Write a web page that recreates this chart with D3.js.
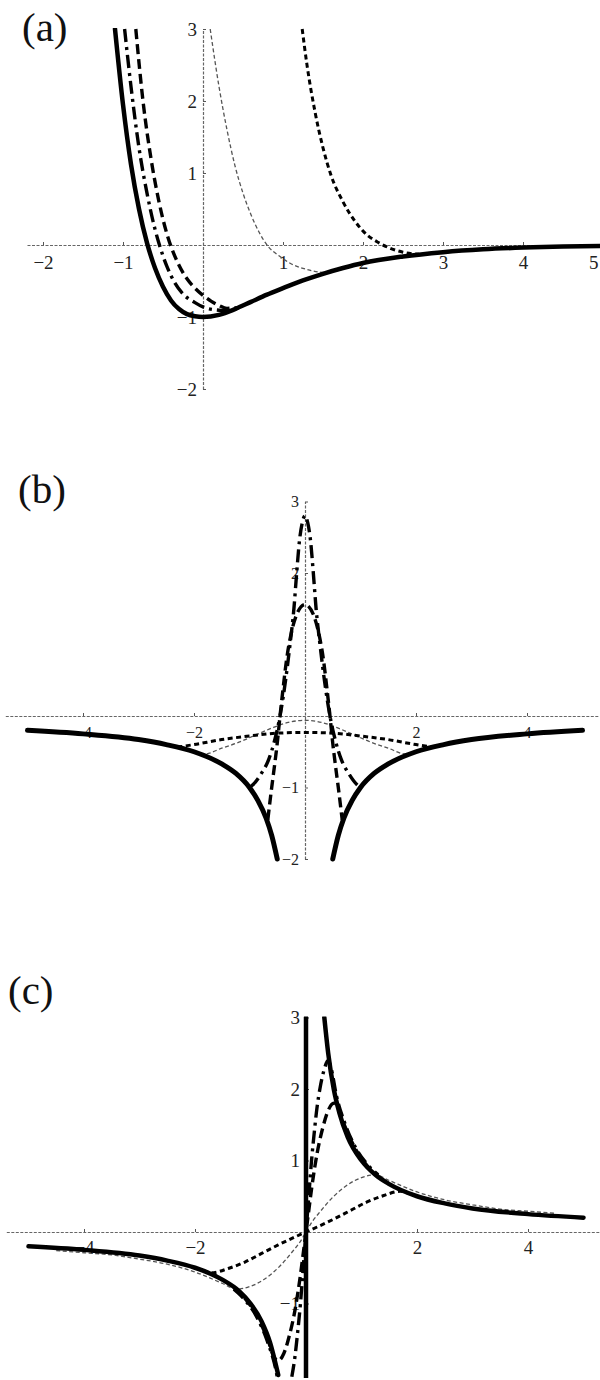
<!DOCTYPE html>
<html>
<head>
<meta charset="utf-8">
<script src="https://cdn.jsdelivr.net/npm/d3@7"></script>
<style>
  body { margin: 0; background: #fff; }
  svg { display: block; }
</style>
</head>
<body>
<svg id="chart" width="600" height="1380"></svg>
<script>
// ---- panel (a) values ----
const aTicksX = [-2, -1, 1, 2, 3, 4, 5];
const aTicksY = [-2, -1, 1, 2, 3];
const aSolid = [[-1.1,3],[-1,1.95],[-0.9,1.12],[-0.8,0.5],[-0.7,0.03],[-0.6,-0.32],[-0.5,-0.58],[-0.4,-0.77],[-0.3,-0.89],[-0.2,-0.96],[-0.1,-0.99],[0,-1],[0.2,-0.97],[0.4,-0.89],[0.6,-0.79],[0.8,-0.69],[1,-0.6],[1.25,-0.49],[1.5,-0.4],[1.75,-0.32],[2,-0.25],[2.5,-0.16],[3,-0.1],[3.5,-0.06],[4,-0.036],[4.5,-0.022],[5,-0.013]];
const aDashDot = [[-0.98,3],[-0.9,2.2],[-0.8,1.35],[-0.7,0.72],[-0.6,0.22],[-0.55,0.02],[-0.45,-0.3],[-0.35,-0.53],[-0.25,-0.68],[-0.1,-0.8],[0,-0.86],[0.15,-0.9],[0.3,-0.91],[0.45,-0.87]];
const aLongDash = [[-0.84,3],[-0.75,2],[-0.65,1.2],[-0.55,0.6],[-0.45,0.15],[-0.4,-0.02],[-0.3,-0.28],[-0.2,-0.47],[-0.1,-0.6],[0,-0.7],[0.1,-0.78],[0.2,-0.84],[0.3,-0.88],[0.45,-0.87]];
const aThin = [[0.09,3],[0.2,2.2],[0.3,1.6],[0.4,1.1],[0.5,0.72],[0.6,0.42],[0.7,0.18],[0.8,0],[0.95,-0.15],[1.1,-0.26],[1.3,-0.34],[1.5,-0.38],[1.7,-0.34]];
const aShort = [[1.24,3],[1.3,2.5],[1.4,1.85],[1.5,1.35],[1.6,0.97],[1.75,0.6],[1.9,0.33],[2.05,0.14],[2.2,0.03],[2.35,-0.05],[2.5,-0.1],[2.7,-0.13]];

// ---- panel (b) ----
const bTicksX = [-4, -2, 2, 4];
const bTicksY = [-2, -1, 2, 3];
const bSolidL = [[-5,-0.2],[-4,-0.25],[-3,-0.33],[-2.5,-0.4],[-2,-0.5],[-1.5,-0.67],[-1.25,-0.8],[-1,-1],[-0.85,-1.18],[-0.7,-1.43],[-0.6,-1.67],[-0.5,-2]];
const bSolidR = [[0.5,-2],[0.6,-1.67],[0.7,-1.43],[0.85,-1.18],[1,-1],[1.25,-0.8],[1.5,-0.67],[2,-0.5],[2.5,-0.4],[3,-0.33],[4,-0.25],[5,-0.2]];
const bDashDot = [[-1,-1],[-0.95,-0.97],[-0.8,-0.82],[-0.65,-0.6],[-0.55,-0.35],[-0.45,0],[-0.35,0.5],[-0.27,1],[-0.2,1.5],[-0.15,2],[-0.1,2.45],[-0.05,2.7],[0,2.8],[0.05,2.7],[0.1,2.45],[0.15,2],[0.2,1.5],[0.27,1],[0.35,0.5],[0.45,0],[0.55,-0.35],[0.65,-0.6],[0.8,-0.82],[0.95,-0.97],[1,-1]];
const bLongDash = [[-0.67,-1.45],[-0.6,-1],[-0.55,-0.7],[-0.5,-0.38],[-0.45,0],[-0.4,0.35],[-0.33,0.8],[-0.25,1.15],[-0.15,1.42],[0,1.56],[0.15,1.42],[0.25,1.15],[0.33,0.8],[0.4,0.35],[0.45,0],[0.5,-0.38],[0.55,-0.7],[0.6,-1],[0.67,-1.45]];
const bThin = [[-2,-0.5],[-1.8,-0.53],[-1.5,-0.45],[-1.2,-0.37],[-0.9,-0.27],[-0.6,-0.17],[-0.3,-0.09],[0,-0.06],[0.3,-0.09],[0.6,-0.17],[0.9,-0.27],[1.2,-0.37],[1.5,-0.45],[1.8,-0.53],[2,-0.5]];
const bShort = [[-2.3,-0.435],[-2,-0.4],[-1.5,-0.33],[-1,-0.28],[-0.5,-0.24],[0,-0.23],[0.5,-0.24],[1,-0.28],[1.5,-0.33],[2,-0.4],[2.3,-0.435]];

// ---- panel (c) ----
const cTicksX = [-4, -2, 2, 4];
const cTicksY = [-1, 1, 2, 3];
const cSolidL = [[-5,-0.2],[-4,-0.25],[-3,-0.33],[-2.5,-0.4],[-2,-0.5],[-1.5,-0.67],[-1.2,-0.83],[-1,-1],[-0.8,-1.25],[-0.65,-1.54],[-0.5,-2]];
const cWall = [[0,-2.1],[0,3]];
const cSolidR = [[0.33,3],[0.4,2.5],[0.5,2],[0.6,1.67],[0.75,1.33],[1,1],[1.25,0.8],[1.5,0.67],[2,0.5],[2.5,0.4],[3,0.33],[4,0.25],[5,0.2]];
const cDashDot = [[-1.3,-0.8],[-1.1,-0.95],[-0.9,-1.17],[-0.7,-1.52],[-0.55,-1.9],[-0.45,-2.3],[-0.4,-2.4],[-0.32,-2.25],[-0.25,-2],[-0.2,-1.75],[-0.15,-1.4],[-0.1,-1],[-0.05,-0.5],[0,0],[0.05,0.5],[0.1,1],[0.15,1.4],[0.2,1.75],[0.25,2],[0.32,2.25],[0.4,2.4],[0.45,2.3],[0.55,1.9],[0.7,1.52],[0.9,1.17],[1.1,0.95],[1.3,0.8]];
const cLongDash = [[-1.3,-0.78],[-1.1,-0.93],[-0.9,-1.15],[-0.7,-1.48],[-0.55,-1.78],[-0.5,-1.8],[-0.4,-1.7],[-0.3,-1.45],[-0.2,-1.1],[-0.1,-0.6],[-0.05,-0.3],[0,0],[0.05,0.3],[0.1,0.6],[0.2,1.1],[0.3,1.45],[0.4,1.7],[0.5,1.8],[0.55,1.78],[0.7,1.48],[0.9,1.15],[1.1,0.93],[1.3,0.78]];
const cThin = [[-4.5,-0.26],[-4,-0.29],[-3.5,-0.32],[-3,-0.38],[-2.5,-0.45],[-2,-0.56],[-1.5,-0.72],[-1.25,-0.8],[-1,-0.76],[-0.75,-0.66],[-0.5,-0.5],[-0.25,-0.28],[-0.1,-0.13],[0,0],[0.1,0.13],[0.25,0.28],[0.5,0.5],[0.75,0.66],[1,0.76],[1.25,0.8],[1.5,0.72],[2,0.56],[2.5,0.45],[3,0.38],[3.5,0.32],[4,0.29],[4.5,0.26]];
const cShort = [[-1.85,-0.54],[-1.7,-0.57],[-1.4,-0.51],[-1.1,-0.42],[-0.8,-0.3],[-0.5,-0.18],[-0.2,-0.07],[0,0],[0.2,0.07],[0.5,0.18],[0.8,0.3],[1.1,0.42],[1.4,0.51],[1.7,0.57],[1.85,0.54]];

const svg = d3.select("#chart");
const serif = "'Liberation Serif', 'DejaVu Serif', serif";

// line looks
const styles = {
  solid:    { w: 4.5, dash: null,        color: "#000" },
  dashDot:  { w: 3.4, dash: "13,5,3,5",  color: "#000" },
  longDash: { w: 3.4, dash: "10,5",      color: "#000" },
  thin:     { w: 1.3, dash: "4,2.5",     color: "#555" },
  short:    { w: 3, dash: "5,3.5",       color: "#000" }
};

const panels = [
  {
    id: "a", label: "(a)", lx: 22, ly: 41,
    x: d3.scaleLinear().domain([-2.2, 5]).range([27, 603]),
    y: d3.scaleLinear().domain([-2, 3]).range([389, 29]),
    xTicks: aTicksX, yTicks: aTicksY, fs: 19, xPad: 11,
    series: [
      [aThin, "thin"], [aShort, "short"], [aLongDash, "longDash"], [aDashDot, "dashDot"], [aSolid, "solid"]
    ]
  },
  {
    id: "b", label: "(b)", lx: 18, ly: 503,
    x: d3.scaleLinear().domain([-5.4, 5.3]).range([305 - 5.4 * 55.5, 305 + 5.3 * 55.5]),
    y: d3.scaleLinear().domain([-2, 3]).range([859, 501.5]),
    xTicks: bTicksX, yTicks: bTicksY, fs: 16, xPad: 11,
    series: [
      [bThin, "thin"], [bShort, "short"], [bLongDash, "longDash"], [bDashDot, "dashDot"], [bSolidL, "solid"], [bSolidR, "solid"]
    ]
  },
  {
    id: "c", label: "(c)", lx: 8, ly: 1004,
    x: d3.scaleLinear().domain([-5.4, 5.3]).range([306 - 5.4 * 55.5, 306 + 5.3 * 55.5]),
    y: d3.scaleLinear().domain([-2, 3]).range([1375, 1017.5]),
    xTicks: cTicksX, yTicks: cTicksY, fs: 19, xPad: 9,
    series: [
      [cThin, "thin"], [cShort, "short"], [cLongDash, "longDash"], [cDashDot, "dashDot"], [cSolidL, "solid"], [cWall, "solid"], [cSolidR, "solid"]
    ]
  }
];

panels.forEach(p => {
  const g = svg.append("g");

  const [x0, x1] = p.x.range();
  const [yb, yt] = p.y.range();
  g.append("clipPath").attr("id", "clip-" + p.id)
    .append("rect")
    .attr("x", x0).attr("y", yt - 1)
    .attr("width", x1 - x0).attr("height", yb - yt + 4);

  // axes: thin dotted lines, ticks pointing inward
  const gx = g.append("g")
    .attr("transform", `translate(0,${p.y(0)})`)
    .call(d3.axisBottom(p.x).tickValues(p.xTicks).tickSize(-3).tickSizeOuter(0).tickPadding(p.xPad).tickFormat(d3.format("d")));
  const gy = g.append("g")
    .attr("transform", `translate(${p.x(0)},0)`)
    .call(d3.axisLeft(p.y).tickValues(p.yTicks).tickSize(-3).tickSizeOuter(0).tickPadding(6).tickFormat(d3.format("d")));

  [gx, gy].forEach(ax => {
    ax.attr("font-family", serif).attr("font-size", p.fs);
    ax.select(".domain").attr("stroke", "#666").attr("stroke-width", 1.2).attr("stroke-dasharray", "3,1.5");
    ax.selectAll(".tick line").attr("stroke", "#555");
    ax.selectAll(".tick text").attr("fill", "#222");
  });

  // a tick that sits past the page edge: pull its label back inside
  gx.selectAll(".tick")
    .filter(d => p.x(d) > 592)
    .select("text")
    .attr("text-anchor", "end")
    .attr("dx", 598 - p.x(d3.max(p.xTicks)));

  const line = d3.line()
    .x(d => p.x(d[0]))
    .y(d => p.y(d[1]))
    .curve(d3.curveMonotoneX);
  const straight = d3.line().x(d => p.x(d[0])).y(d => p.y(d[1]));

  p.series.forEach(([data, kind]) => {
    const s = styles[kind];
    const isWall = data === cWall;
    g.append("path")
      .datum(data)
      .attr("clip-path", `url(#clip-${p.id})`)
      .attr("fill", "none")
      .attr("stroke", s.color)
      .attr("stroke-width", kind === "solid" && p.id === "b" ? 5 : s.w)
      .attr("stroke-dasharray", s.dash)
      .attr("stroke-linecap", kind === "solid" ? "round" : "butt")
      .attr("d", isWall ? straight : line);
  });

  g.append("text")
    .attr("x", p.lx).attr("y", p.ly)
    .attr("font-family", serif)
    .attr("font-size", 41)
    .attr("fill", "#111")
    .text(p.label);
});
</script>
</body>
</html>
